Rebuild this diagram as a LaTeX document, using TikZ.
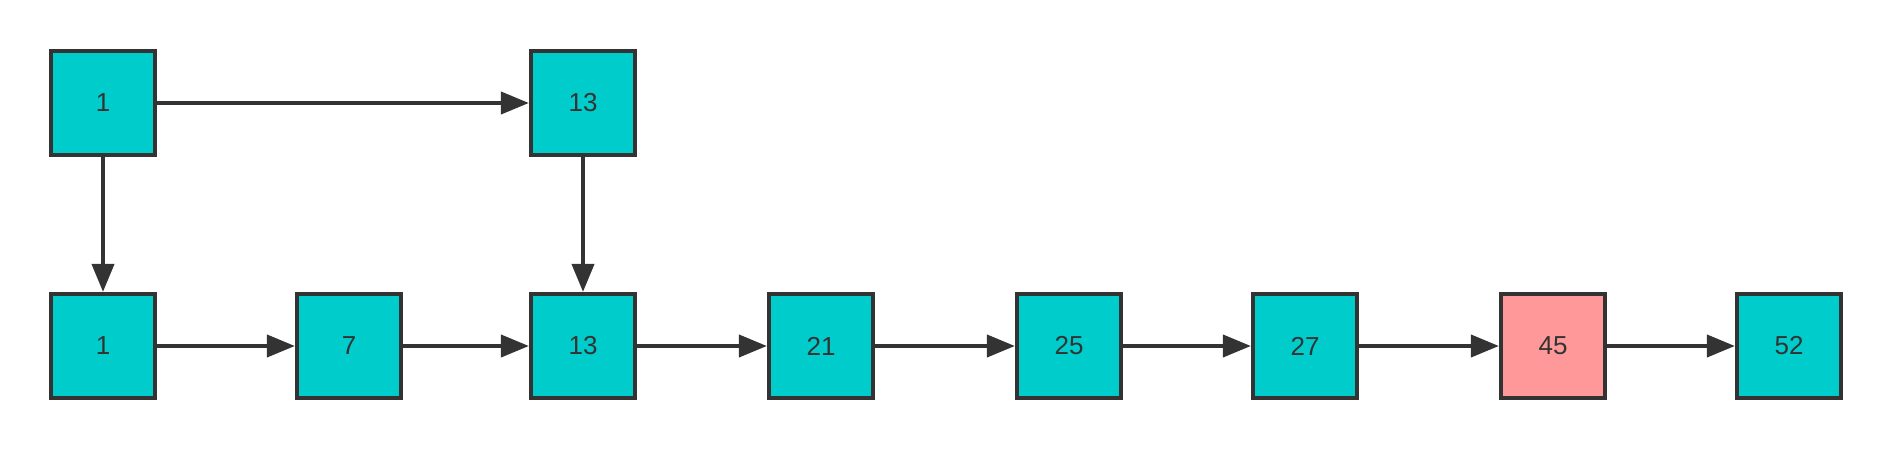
\documentclass[tikz,border=0pt]{standalone}
\usepackage{fontspec}
\setmainfont{Liberation Sans}
\usetikzlibrary{arrows.meta}
\definecolor{cyanbox}{HTML}{00CCCC}
\definecolor{pinkbox}{HTML}{FF9999}
\definecolor{darkline}{HTML}{333333}
\begin{document}
\begin{tikzpicture}[x=1pt,y=-1pt,
  box/.style={draw=darkline,line width=4.2pt,fill=cyanbox,minimum size=104pt,inner sep=0pt,
    text=darkline,font=\fontsize{26}{26}\selectfont},
  hot/.style={box,fill=pinkbox},
  link/.style={draw=darkline,line width=4pt,-{Triangle[length=28pt,width=22pt]}}]
\useasboundingbox (0,0) rectangle (1892,450);
\node[box] (t1) at (103,103) {1};
\node[box] (t13) at (583,103) {13};
\node[box] (b1) at (103,346) {1};
\node[box] (b7) at (349,346) {7};
\node[box] (b13) at (583,346) {13};
\node[box] (b21) at (821,346) {21};
\node[box] (b25) at (1069,346) {25};
\node[box] (b27) at (1305,346) {27};
\node[hot] (b45) at (1553,346) {45};
\node[box] (b52) at (1789,346) {52};
\draw[link] (t1) -- (t13);
\draw[link] (t1) -- (b1);
\draw[link] (t13) -- (b13);
\draw[link] (b1) -- (b7);
\draw[link] (b7) -- (b13);
\draw[link] (b13) -- (b21);
\draw[link] (b21) -- (b25);
\draw[link] (b25) -- (b27);
\draw[link] (b27) -- (b45);
\draw[link] (b45) -- (b52);
\end{tikzpicture}
\end{document}
